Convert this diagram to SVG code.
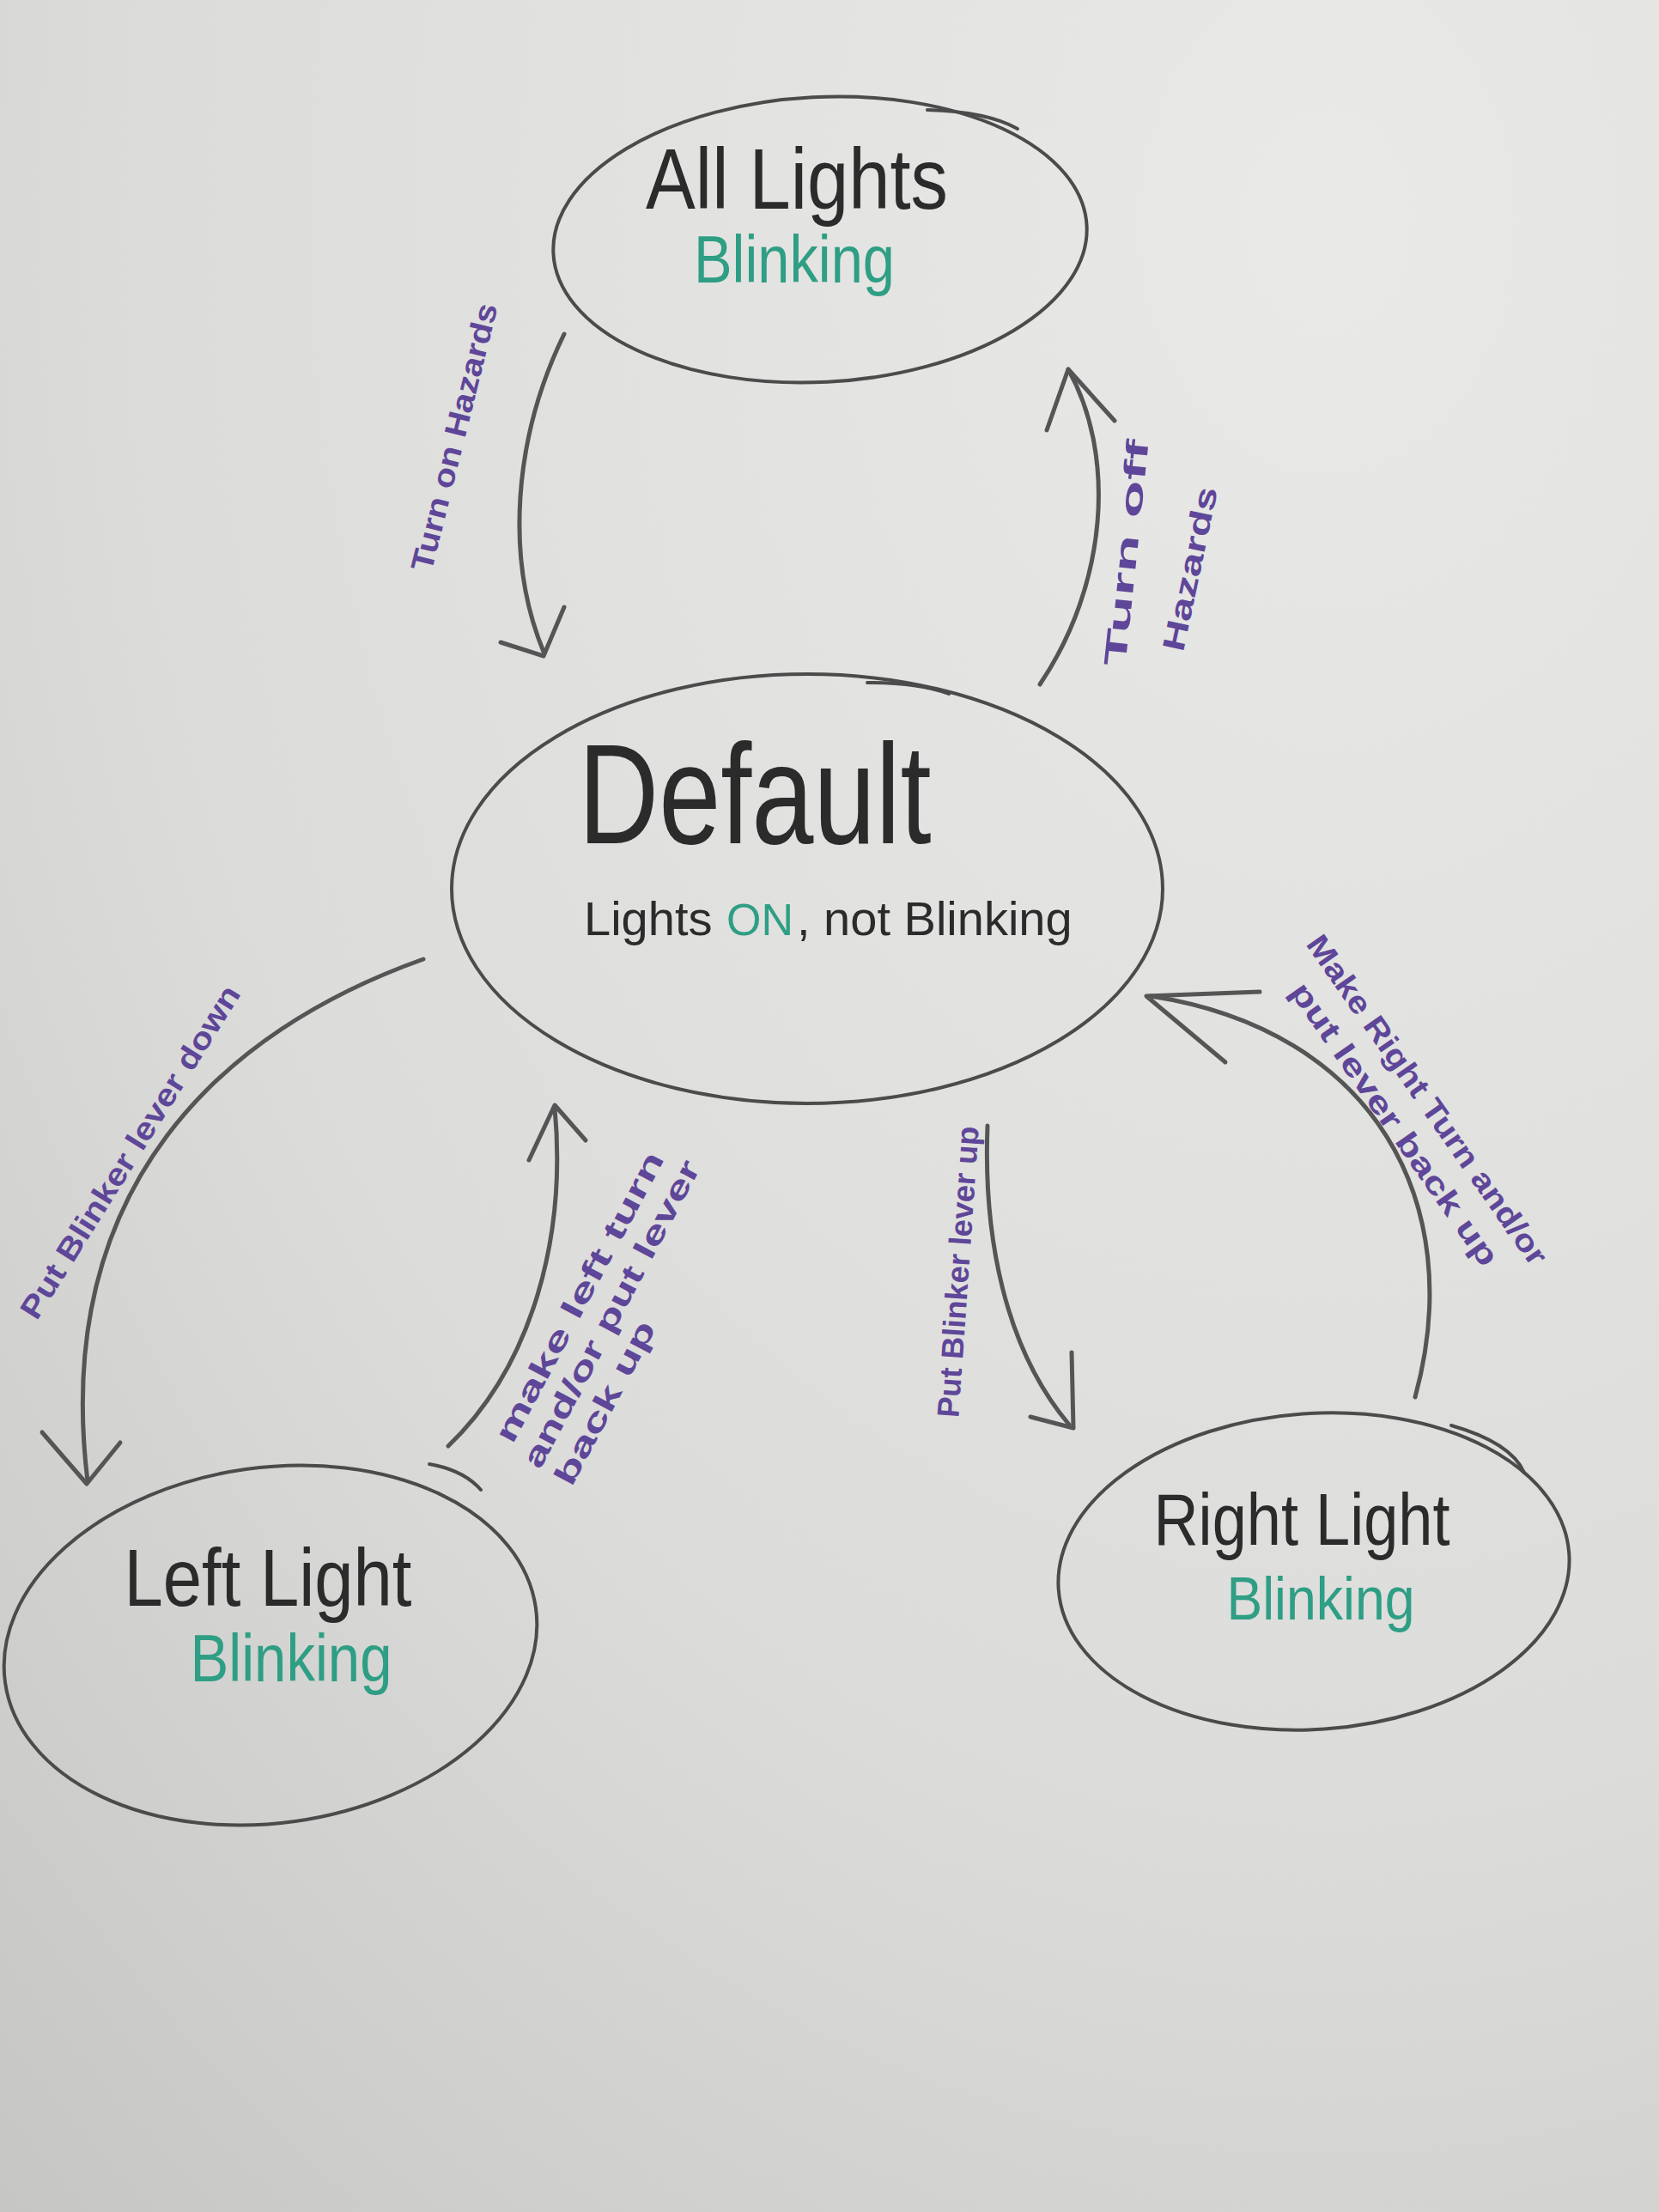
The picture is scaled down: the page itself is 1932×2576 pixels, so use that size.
<svg xmlns="http://www.w3.org/2000/svg" width="1932" height="2576" viewBox="0 0 1932 2576">
  <defs>
    <radialGradient id="bg" cx="0.8" cy="0.1" r="1.2">
      <stop offset="0" stop-color="#e9e9e7"/>
      <stop offset="0.6" stop-color="#dcdcda"/>
      <stop offset="1" stop-color="#c6c6c4"/>
    </radialGradient>
    <style>
      .node { fill: none; stroke: #4b4b4b; stroke-width: 4; stroke-linecap: round; }
      .title { font-family: "Liberation Sans", "DejaVu Sans", sans-serif; fill: #2b2b2b; text-anchor: middle; }
      .sub { font-family: "Liberation Sans", "DejaVu Sans", sans-serif; fill: #2b2b2b; text-anchor: start; font-size: 56px; }
      .subg { font-family: "Liberation Sans", "DejaVu Sans", sans-serif; fill: #2e9e84; text-anchor: start; font-size: 52px; }
      .green { font-family: "Liberation Sans", "DejaVu Sans", sans-serif; fill: #2e9e84; text-anchor: middle; }
      .edge { fill: none; stroke: #555555; stroke-width: 5; stroke-linecap: round; stroke-linejoin: round; }
      .lbl { font-family: "Liberation Sans", "DejaVu Sans", sans-serif; fill: #5e4699; text-anchor: middle; font-size: 36px; font-weight: bold; }
    </style>
  </defs>
  <rect x="0" y="0" width="1932" height="2576" fill="url(#bg)"/>

  <g id="node-all-lights">
    <ellipse class="node" cx="955" cy="279" rx="311" ry="166" transform="rotate(-3 955 279)"/>
    <path class="node" d="M1080,128 Q1150,130 1185,150"/>
    <text class="title" x="928" y="243" font-size="100" textLength="352" lengthAdjust="spacingAndGlyphs">All Lights</text>
    <text class="green" x="925" y="329" font-size="78" textLength="234" lengthAdjust="spacingAndGlyphs">Blinking</text>
  </g>

  <g id="node-default">
    <ellipse class="node" cx="940" cy="1035" rx="414" ry="250"/>
    <path class="node" d="M1010,795 Q1070,795 1105,808"/>
    <text class="title" x="879" y="982" font-size="165" textLength="411" lengthAdjust="spacingAndGlyphs">Default</text>
    <text class="sub" x="680" y="1089">Lights</text>
    <text class="subg" x="846" y="1089">ON</text>
    <text class="sub" x="928" y="1089">, not Blinking</text>
  </g>

  <g id="node-left-light">
    <ellipse class="node" cx="315" cy="1916" rx="312" ry="207" transform="rotate(-8 315 1916)"/>
    <path class="node" d="M500,1705 Q540,1712 560,1735"/>
    <text class="title" x="312" y="1870" font-size="95" textLength="335" lengthAdjust="spacingAndGlyphs">Left Light</text>
    <text class="green" x="339" y="1958" font-size="78" textLength="235" lengthAdjust="spacingAndGlyphs">Blinking</text>
  </g>

  <g id="node-right-light">
    <ellipse class="node" cx="1530" cy="1830" rx="298" ry="184" transform="rotate(-4 1530 1830)"/>
    <path class="node" d="M1690,1660 Q1760,1680 1775,1715"/>
    <text class="title" x="1516" y="1799" font-size="85" textLength="345" lengthAdjust="spacingAndGlyphs">Right Light</text>
    <text class="green" x="1538" y="1886" font-size="70" textLength="219" lengthAdjust="spacingAndGlyphs">Blinking</text>
  </g>

  <g id="connectors">
    <g id="edge-turn-on-hazards">
      <path class="edge" d="M657,389 C598,510 588,650 633,759"/>
      <path class="edge" d="M583,748 L633,764 L657,707"/>
      <text class="lbl" transform="translate(541,512) rotate(-76)" textLength="320" lengthAdjust="spacingAndGlyphs">Turn on Hazards</text>
    </g>
    <g id="edge-turn-off-hazards">
      <path class="edge" d="M1211,797 C1290,680 1300,530 1244,430"/>
      <path class="edge" d="M1219,501 L1244,430 L1298,490"/>
      <text class="lbl" font-size="40" transform="translate(1324,645) rotate(-84)" textLength="265" lengthAdjust="spacingAndGlyphs">Turn off</text>
      <text class="lbl" font-size="40" transform="translate(1398,665) rotate(-78)" textLength="195" lengthAdjust="spacingAndGlyphs">Hazards</text>
    </g>
    <g id="edge-put-blinker-down">
      <path class="edge" d="M493,1117 C260,1200 60,1380 102,1725"/>
      <path class="edge" d="M49,1668 L101,1728 L140,1680"/>
      <text class="lbl" font-size="34" transform="translate(162,1348) rotate(-58)" textLength="450" lengthAdjust="spacingAndGlyphs">Put Blinker lever down</text>
    </g>
    <g id="edge-make-left-turn">
      <path class="edge" d="M522,1684 C620,1590 660,1440 646,1290"/>
      <path class="edge" d="M616,1351 L646,1287 L682,1328"/>
      <g transform="translate(712,1530) rotate(-62)">
        <text class="lbl" x="0" y="-30" textLength="378" lengthAdjust="spacingAndGlyphs">make left turn</text>
        <text class="lbl" x="0" y="12" textLength="400" lengthAdjust="spacingAndGlyphs">and/or put lever</text>
        <text class="lbl" x="-95" y="54" textLength="211" lengthAdjust="spacingAndGlyphs">back up</text>
      </g>
    </g>
    <g id="edge-put-blinker-up">
      <path class="edge" d="M1150,1311 C1145,1440 1170,1570 1245,1659"/>
      <path class="edge" d="M1200,1650 L1250,1663 L1248,1575"/>
      <text class="lbl" font-size="32" transform="translate(1128,1482) rotate(-86)" textLength="340" lengthAdjust="spacingAndGlyphs">Put Blinker lever up</text>
    </g>
    <g id="edge-make-right-turn">
      <path class="edge" d="M1648,1627 C1710,1400 1600,1200 1340,1160"/>
      <path class="edge" d="M1467,1155 L1335,1160 L1427,1237"/>
      <text class="lbl" transform="translate(1652,1288) rotate(55)" textLength="460" lengthAdjust="spacingAndGlyphs">Make Right Turn and/or</text>
      <text class="lbl" transform="translate(1614,1316) rotate(55)" textLength="394" lengthAdjust="spacingAndGlyphs">put lever back up</text>
    </g>
  </g>
</svg>
